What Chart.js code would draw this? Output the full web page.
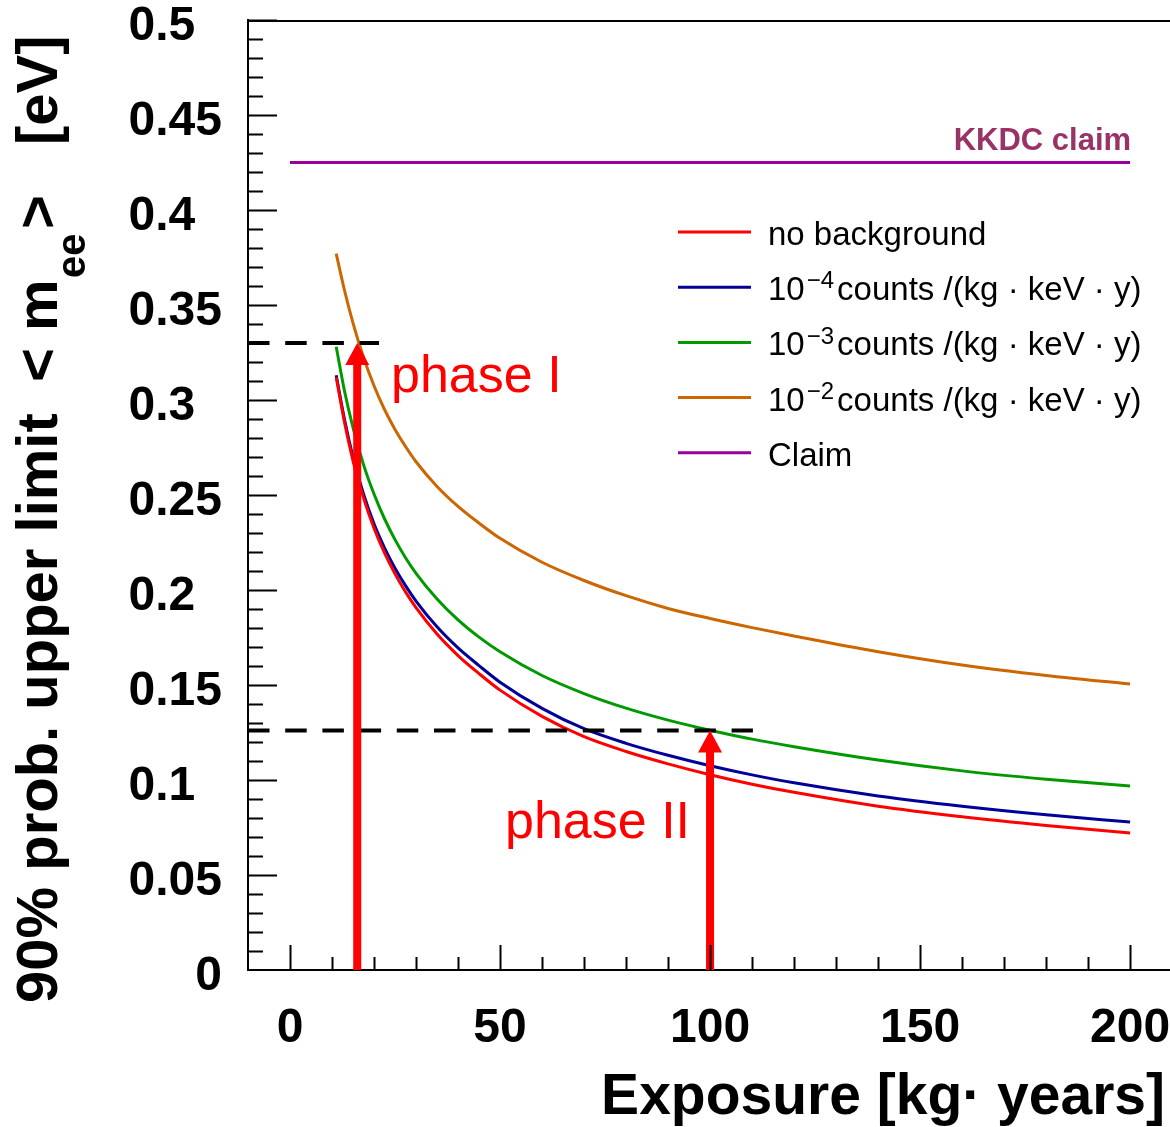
<!DOCTYPE html>
<html lang="en">
<head>
<meta charset="UTF-8">
<title>Exposure vs upper limit</title>
<script src="https://cdn.jsdelivr.net/npm/chart.js@4.4.1/dist/chart.umd.min.js"></script>
<style>
  html, body { margin: 0; padding: 0; background: #fff; }
  #wrap { width: 1170px; height: 1127px; position: relative; }
</style>
</head>
<body>
<div id="wrap"><canvas id="limitChart"></canvas></div>
<script>
// exposure in kg*years
var exposure = [11, 13, 15, 17.5, 20, 22.5, 25, 27.5, 30, 35, 40, 45, 50, 60, 70, 80, 90, 100, 110, 120, 140, 160, 180, 200];
// 90% prob. upper limit on <m_ee> in eV
var noBackground = [0.312, 0.288, 0.268, 0.2485, 0.2325, 0.2195, 0.2085, 0.1990, 0.1907, 0.1768, 0.1655, 0.1560, 0.1473, 0.1335, 0.1228, 0.1150, 0.1085, 0.1028, 0.0978, 0.0935, 0.0862, 0.0807, 0.0761, 0.0721];
var bkg1e4 = [0.313, 0.2895, 0.270, 0.2505, 0.2348, 0.2222, 0.2115, 0.2023, 0.1942, 0.1806, 0.1695, 0.1602, 0.1515, 0.1377, 0.1270, 0.1193, 0.1130, 0.1075, 0.1027, 0.0985, 0.0916, 0.0862, 0.0817, 0.0779];
var bkg1e3 = [0.328, 0.3045, 0.2855, 0.266, 0.2505, 0.2375, 0.2265, 0.2170, 0.2088, 0.1953, 0.1843, 0.1752, 0.1675, 0.1550, 0.1455, 0.1378, 0.1315, 0.1262, 0.1215, 0.1175, 0.1105, 0.1048, 0.1004, 0.0968];
var bkg1e2 = [0.377, 0.3575, 0.3405, 0.3225, 0.3075, 0.2950, 0.2845, 0.2755, 0.2675, 0.2545, 0.2440, 0.2352, 0.2272, 0.2146, 0.2050, 0.1970, 0.1903, 0.1850, 0.1802, 0.1758, 0.1675, 0.1605, 0.1550, 0.1505];
var claimX = [0, 200];
var claimY = [0.425, 0.425];

// phase I / phase II goals
var phaseNames = ['phase I', 'phase II'];
var phaseExposure = [16, 100];
var phaseLevel = [0.330, 0.126];
var phaseLineEnd = [21.2, 110.2];

var seriesLabels = ['no background',
  '10^{\u22124}counts /(kg \u00b7 keV \u00b7 y)',
  '10^{\u22123}counts /(kg \u00b7 keV \u00b7 y)',
  '10^{\u22122}counts /(kg \u00b7 keV \u00b7 y)',
  'Claim'];

var xTicks = [0, 50, 100, 150, 200];
var yTicks = [0, 0.05, 0.1, 0.15, 0.2, 0.25, 0.3, 0.35, 0.4, 0.45, 0.5];
var yTickLabels = ['0', '0.05', '0.1', '0.15', '0.2', '0.25', '0.3', '0.35', '0.4', '0.45', '0.5'];

var FONT = '"Liberation Sans", Arial, Helvetica, sans-serif';

function pts(xv, yv) {
  return xv.map(function (x, i) { return { x: x, y: yv[i] }; });
}

function drawRich(ctx, str, x, y, size) {
  var m = str.match(/^(.*?)\^\{(.*?)\}(.*)$/);
  ctx.font = size + 'px ' + FONT;
  if (!m) { ctx.fillText(str, x, y); return; }
  ctx.fillText(m[1], x, y);
  x += ctx.measureText(m[1]).width + 2;
  ctx.font = Math.round(size * 0.72) + 'px ' + FONT;
  ctx.fillText(m[2], x, y - size * 0.36);
  x += ctx.measureText(m[2]).width + 3;
  ctx.font = size + 'px ' + FONT;
  ctx.fillText(m[3], x, y);
}

var rootStyle = {
  id: 'rootStyle',
  afterDatasetsDraw: function (chart) {
    // arrows
    var ctx = chart.ctx, xs = chart.scales.x, ys = chart.scales.y;
    ctx.save();
    ctx.fillStyle = '#ff0000';
    for (var i = 0; i < phaseExposure.length; i++) {
      var px = xs.getPixelForValue(phaseExposure[i]);
      var tip = ys.getPixelForValue(phaseLevel[i]);
      var base = ys.getPixelForValue(0);
      var headH = 22, headW = 24, shaftW = 8;
      ctx.fillRect(px - shaftW / 2, tip + headH - 1, shaftW, base - tip - headH + 1);
      ctx.beginPath();
      ctx.moveTo(px, tip);
      ctx.lineTo(px - headW / 2, tip + headH);
      ctx.lineTo(px + headW / 2, tip + headH);
      ctx.closePath();
      ctx.fill();
    }
    ctx.restore();
  },
  afterDraw: function (chart) {
    var ctx = chart.ctx, xs = chart.scales.x, ys = chart.scales.y, a = chart.chartArea;
    ctx.save();
    ctx.strokeStyle = '#000';
    ctx.lineWidth = 2;
    // top frame line
    ctx.beginPath();
    ctx.moveTo(a.left, a.top + 1);
    ctx.lineTo(a.right, a.top + 1);
    ctx.stroke();
    // x ticks, pointing in
    ctx.beginPath();
    for (var v = 0; v <= 200; v += 10) {
      var px = Math.round(xs.getPixelForValue(v)) + 0.5;
      var len = (v % 50 === 0) ? 25 : 13;
      ctx.moveTo(px, a.bottom);
      ctx.lineTo(px, a.bottom - len);
    }
    // y ticks
    for (var k = 1; k <= 50; k++) {
      var py = Math.round(ys.getPixelForValue(k / 100)) + 0.5;
      var l = (k % 5 === 0) ? 29 : 15;
      ctx.moveTo(a.left, py);
      ctx.lineTo(a.left + l, py);
    }
    ctx.stroke();

    // y tick labels, ROOT-like alignment
    ctx.fillStyle = '#000';
    ctx.font = 'bold 48px ' + FONT;
    ctx.textBaseline = 'middle';
    var w00 = ctx.measureText('0.00').width;
    yTicks.forEach(function (val, i) {
      var y = ys.getPixelForValue(val) + 7;
      var lab = yTickLabels[i];
      if (lab.indexOf('.') < 0) {
        ctx.textAlign = 'right';
        ctx.fillText(lab, 222, y);
      } else {
        ctx.textAlign = 'left';
        ctx.fillText(lab, 222 - w00, y);
      }
    });

    // x title
    ctx.textBaseline = 'alphabetic';
    ctx.textAlign = 'right';
    ctx.font = 'bold 57px ' + FONT;
    ctx.fillText('Exposure [kg\u00b7 years]', 1165, 1114);

    // y title (rotated)
    ctx.save();
    ctx.translate(57, 1003);
    ctx.rotate(-Math.PI / 2);
    ctx.textAlign = 'left';
    ctx.font = 'bold 58px ' + FONT;
    ctx.fillText('90% prob. upper limit', 0, 0);
    ctx.fillText('<', 1003 - 382, 0);
    ctx.fillText('m', 1003 - 331, 0);
    ctx.font = 'bold 40px ' + FONT;
    ctx.fillText('ee', 1003 - 278, 28);
    ctx.font = 'bold 58px ' + FONT;
    ctx.fillText('>', 1003 - 229, 0);
    ctx.fillText('[eV]', 1003 - 145, 0);
    ctx.restore();

    // KKDC claim label
    ctx.fillStyle = '#993366';
    ctx.textAlign = 'right';
    ctx.font = 'bold 31px ' + FONT;
    ctx.fillText('KKDC claim', xs.getPixelForValue(claimX[1]) + 1, ys.getPixelForValue(claimY[1]) - 13);

    // phase labels
    ctx.fillStyle = '#ff0000';
    ctx.textAlign = 'left';
    ctx.font = '52px ' + FONT;
    ctx.fillText(phaseNames[0], 391, 392);
    ctx.fillText(phaseNames[1], 505, 838);

    // legend
    var rows = chart.data.datasets.filter(function (d) { return d.inLegend; });
    ctx.fillStyle = '#000';
    rows.forEach(function (d, i) {
      var ly = 232 + i * 55.2;
      ctx.strokeStyle = d.borderColor;
      ctx.lineWidth = 3;
      ctx.beginPath();
      ctx.moveTo(678, ly);
      ctx.lineTo(751, ly);
      ctx.stroke();
      drawRich(ctx, d.label, 768, ly + 13, 33);
    });
    ctx.restore();
  }
};

var ctx = document.getElementById('limitChart').getContext('2d');
var limitChart = new Chart(ctx, {
  type: 'line',
  data: {
    datasets: [
      { label: 'phase I goal', data: pts([-10, phaseLineEnd[0]], [phaseLevel[0], phaseLevel[0]]),
        borderColor: '#000', borderWidth: 4, borderDash: [21.5, 15.7], pointRadius: 0 },
      { label: 'phase II goal', data: pts([-10, phaseLineEnd[1]], [phaseLevel[1], phaseLevel[1]]),
        borderColor: '#000', borderWidth: 4, borderDash: [21.5, 15.7], pointRadius: 0 },
      { label: seriesLabels[0], data: pts(exposure, noBackground), borderColor: '#ff0000', inLegend: true },
      { label: seriesLabels[1], data: pts(exposure, bkg1e4), borderColor: '#000099', inLegend: true },
      { label: seriesLabels[2], data: pts(exposure, bkg1e3), borderColor: '#009900', inLegend: true },
      { label: seriesLabels[3], data: pts(exposure, bkg1e2), borderColor: '#cc6600', inLegend: true },
      { label: seriesLabels[4], data: pts(claimX, claimY), borderColor: '#990099', inLegend: true }
    ]
  },
  options: {
    responsive: true,
    maintainAspectRatio: false,
    animation: false,
    events: [],
    layout: { padding: { top: 20, right: 0, bottom: 0, left: 0 } },
    elements: {
      line: { borderWidth: 3, fill: false, cubicInterpolationMode: 'monotone' },
      point: { radius: 0 }
    },
    plugins: { legend: { display: false }, tooltip: { enabled: false } },
    scales: {
      x: {
        type: 'linear', min: -10, max: 209.5,
        grid: { display: false },
        border: { display: true, color: '#000', width: 2 },
        afterBuildTicks: function (s) { s.ticks = xTicks.map(function (v) { return { value: v }; }); },
        afterFit: function (s) { s.height = 157; s.paddingLeft = 0; s.paddingRight = 0; },
        ticks: { color: '#000', padding: 22, maxRotation: 0, autoSkip: false,
          font: { family: FONT, size: 48, weight: 'bold' } }
      },
      y: {
        type: 'linear', min: 0, max: 0.5,
        grid: { display: false },
        border: { display: true, color: '#000', width: 2 },
        afterBuildTicks: function (s) { s.ticks = yTicks.map(function (v) { return { value: v }; }); },
        afterFit: function (s) { s.width = 248; s.paddingTop = 0; s.paddingBottom = 0; },
        ticks: { display: false }
      }
    }
  },
  plugins: [rootStyle]
});
</script>
</body>
</html>
